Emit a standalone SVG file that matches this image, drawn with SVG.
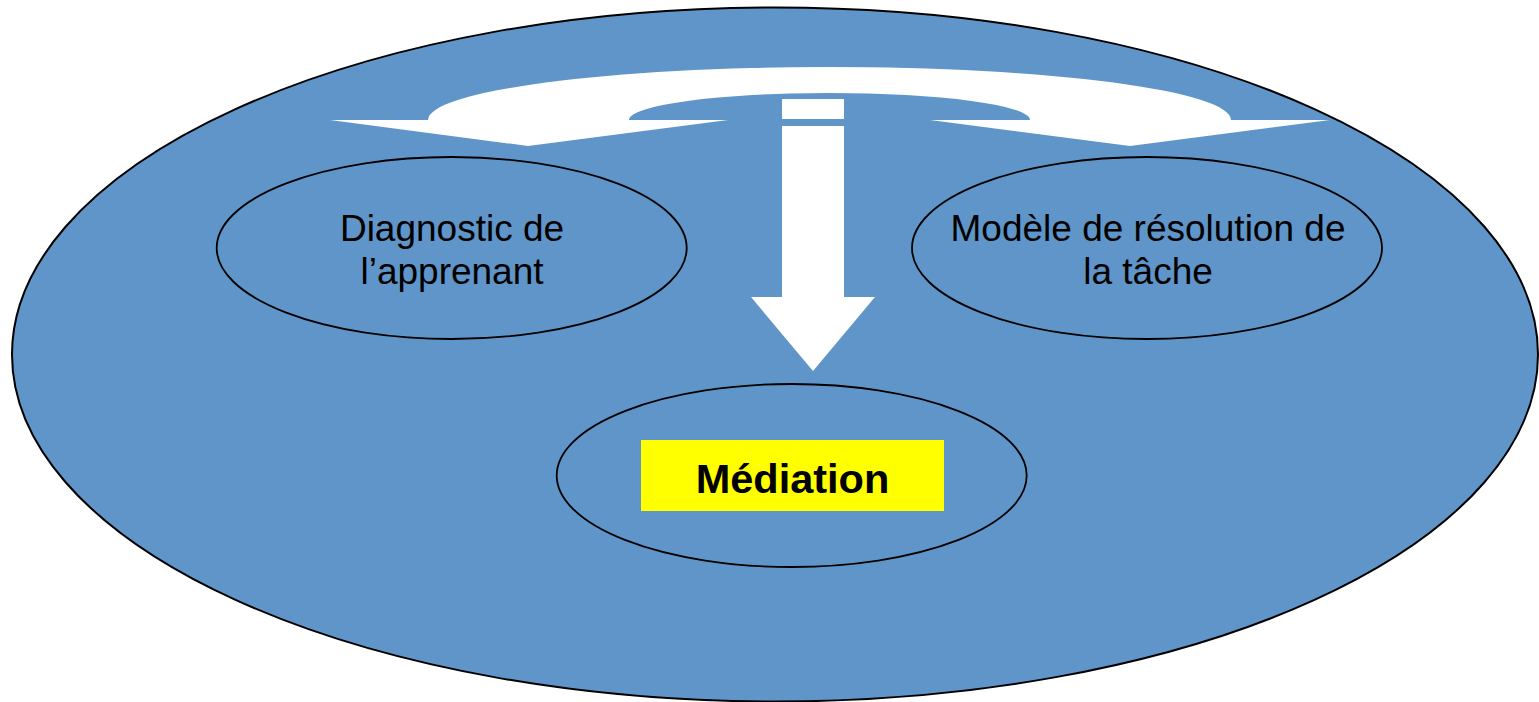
<svg xmlns="http://www.w3.org/2000/svg" width="1539" height="702" viewBox="0 0 1539 702">
  <style>
    .node { fill: #5F95C8; stroke: #000; stroke-width: 2; }
    .inner { fill: #5F95C8; stroke: #000; stroke-width: 1.8; }
    .lbl { font-family: "Liberation Sans", Arial, sans-serif; font-size: 37px; fill: #000; text-anchor: middle; }
    .bold { font-family: "Liberation Sans", Arial, sans-serif; font-size: 41.5px; font-weight: bold; fill: #000; text-anchor: middle; }
    .arrow { fill: #FFFFFF; stroke: none; }
  </style>
  <rect width="1539" height="702" fill="#FFFFFF"/>
  <g id="outer">
    <ellipse class="node" cx="775" cy="354.5" rx="763" ry="347"/>
  </g>
  <g id="connectors">
    <path class="arrow" d="M 330 120 L 428 120 A 401.5 53 0 0 1 1231 120 L 1330 120 L 1130 146 L 930 120 L 1030 120 A 200.5 27 0 0 0 629 120 L 728 120 L 528 146 Z"/>
    <rect class="arrow" x="782" y="99" width="62" height="20"/>
    <path class="arrow" d="M 782 126 L 844 126 L 844 297 L 875 297 L 813 371 L 751 297 L 782 297 Z"/>
  </g>
  <g id="diagnostic">
    <ellipse class="inner" cx="451.7" cy="248" rx="235" ry="91"/>
    <text class="lbl" x="452" y="241">Diagnostic de</text>
    <text class="lbl" x="452" y="284">l’apprenant</text>
  </g>
  <g id="modele">
    <ellipse class="inner" cx="1147" cy="248" rx="235" ry="91"/>
    <text class="lbl" x="1148" y="241">Modèle de résolution de</text>
    <text class="lbl" x="1148" y="284">la tâche</text>
  </g>
  <g id="mediation">
    <ellipse class="inner" cx="791.7" cy="475.5" rx="235" ry="91.5"/>
    <rect x="641" y="440" width="303" height="71" fill="#FFFF00"/>
    <text class="bold" x="792.5" y="493">Médiation</text>
  </g>
</svg>
